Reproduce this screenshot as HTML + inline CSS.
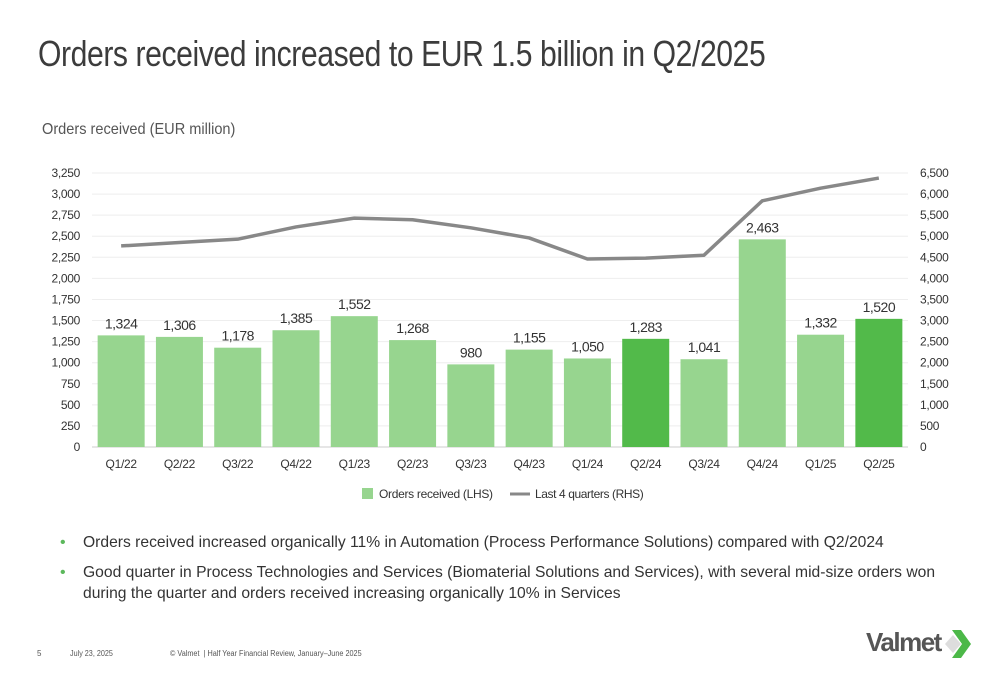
<!DOCTYPE html>
<html><head><meta charset="utf-8"><style>
body{margin:0;width:1000px;height:685px;background:#fff;font-family:"Liberation Sans",sans-serif;overflow:hidden;position:relative}
.t{position:absolute;white-space:nowrap;transform-origin:0 0}
</style></head><body>
<div class="t" style="left:38px;top:33px;font-size:36px;color:#3c3c3c;letter-spacing:-0.5px;transform:scaleX(0.837)">Orders received increased to EUR 1.5 billion in Q2/2025</div>
<div class="t" style="left:42px;top:121px;font-size:16px;color:#555;transform:scaleX(0.91)">Orders received (EUR million)</div>
<svg width="1000" height="685" style="position:absolute;left:0;top:0" id="ch" font-family="Liberation Sans, sans-serif"></svg>
<div>
<div class="t" style="left:60px;top:534px;font-size:16px;color:#333"><span style="color:#5cb85c;margin-right:17px">•</span><span style="display:inline-block;transform:scaleX(0.978);transform-origin:0 0">Orders received increased organically 11% in Automation (Process Performance Solutions) compared with Q2/2024</span></div>
<div class="t" style="left:60px;top:562px;font-size:16px;color:#333;line-height:21px"><span style="color:#5cb85c;margin-right:17px;vertical-align:top">•</span><span style="display:inline-block;transform:scaleX(0.978);transform-origin:0 0">Good quarter in Process Technologies and Services (Biomaterial Solutions and Services), with several mid-size orders won<br>during the quarter and orders received increasing organically 10% in Services</span></div>
</div>
<div class="t" style="left:37px;top:649px;font-size:8px;color:#555">5</div>
<div class="t" style="left:70px;top:649px;font-size:8px;color:#555;transform:scaleX(0.9)">July 23, 2025</div>
<div class="t" style="left:170px;top:649px;font-size:8px;color:#555;transform:scaleX(0.91)">© Valmet &nbsp;| Half Year Financial Review, January–June 2025</div>
<div style="position:absolute;left:866px;top:627px;width:110px;height:34px">
<span class="t" style="left:0;top:0;font-size:26px;font-weight:bold;color:#555;letter-spacing:-1.5px">Valmet</span>
<svg width="34" height="34" style="position:absolute;left:74px;top:0"><polygon points="12,3 21,3 31,17 21,31 12,31 22,17" fill="#4cb848"/><polygon points="5,17 13,8 21,17 13,26" fill="#ddd"/></svg>
</div>
<script>
const categories=["Q1/22","Q2/22","Q3/22","Q4/22","Q1/23","Q2/23","Q3/23","Q4/23","Q1/24","Q2/24","Q3/24","Q4/24","Q1/25","Q2/25"];
const orders=[1324,1306,1178,1385,1552,1268,980,1155,1050,1283,1041,2463,1332,1520];
const last4q=[4770,4850,4930,5220,5430,5390,5200,4960,4460,4480,4550,5840,6140,6380];
const highlight=[false,false,false,false,false,false,false,false,false,true,false,false,false,true];
const leftTicks=[0,250,500,750,1000,1250,1500,1750,2000,2250,2500,2750,3000,3250];
const rightTicks=[0,500,1000,1500,2000,2500,3000,3500,4000,4500,5000,5500,6000,6500];
const svg=document.getElementById('ch');const NS='http://www.w3.org/2000/svg';
const X0=92,X1=908,Y0=447,Y1=173;
const step=(X1-X0)/categories.length;
const xc=i=>X0+step*(i+0.5);
const yl=v=>Y0-(v/3250)*(Y0-Y1);
const yr=v=>Y0-(v/6500)*(Y0-Y1);
const fmt=v=>v.toLocaleString('en-US');
function mk(t,a,txt){const e=document.createElementNS(NS,t);for(const k in a)e.setAttribute(k,a[k]);if(txt!==undefined)e.textContent=txt;svg.appendChild(e);return e;}
leftTicks.forEach(v=>{
const g=mk('line',{x1:X0,x2:X1,y1:yl(v),y2:yl(v),stroke:v===0?'#ccc':'#eee','stroke-width':1});


const t=mk('text',{x:80,y:yl(v)+4,'text-anchor':'end','font-size':12,fill:'#333','letter-spacing':-0.3},fmt(v));


});
rightTicks.forEach(v=>{
const t=mk('text',{x:920,y:yr(v)+4,'font-size':12,fill:'#333','letter-spacing':-0.3},fmt(v));


});
const bw=47;
orders.forEach((v,i)=>{
const b=mk('rect',{x:xc(i)-bw/2,y:yl(v),width:bw,height:Y0-yl(v),fill:highlight[i]?'#52ba4a':'#97d58f'});


const l=mk('text',{x:xc(i),y:yl(v)-7,'text-anchor':'middle','font-size':14,fill:'#333','letter-spacing':-0.5},fmt(v));


const c=mk('text',{x:xc(i),y:468,'text-anchor':'middle','font-size':12,fill:'#333','letter-spacing':-0.3},categories[i]);


});
const ln=mk('polyline',{points:last4q.map((v,i)=>xc(i)+','+yr(v)).join(' '),fill:'none',stroke:'#888','stroke-width':3.5,'stroke-linejoin':'round'});


const lg1=mk('rect',{x:362,y:488,width:11,height:11,fill:'#97d58f'});


const lt1=mk('text',{x:379,y:498,'font-size':12,fill:'#333','letter-spacing':-0.3},'Orders received (LHS)');


const lg2=mk('line',{x1:510,x2:530,y1:494,y2:494,stroke:'#888','stroke-width':3});


const lt2=mk('text',{x:535,y:498,'font-size':12,fill:'#333','letter-spacing':-0.4},'Last 4 quarters (RHS)');


</script>
</body></html>
